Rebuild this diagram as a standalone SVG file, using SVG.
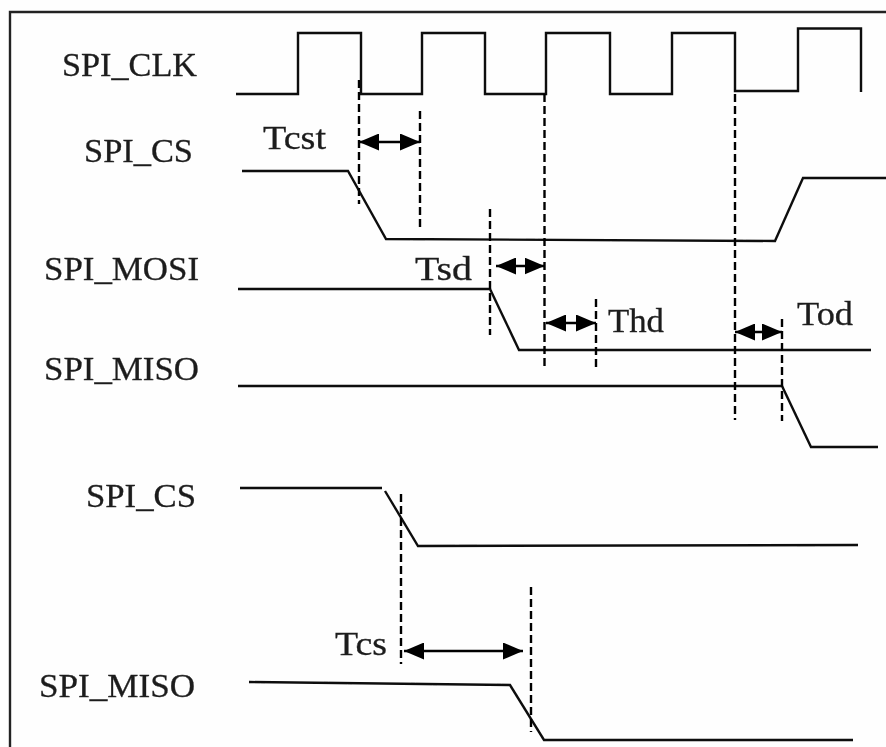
<svg xmlns="http://www.w3.org/2000/svg" width="886" height="747" viewBox="0 0 886 747">
<style>
.sig{fill:none;stroke:#111;stroke-width:2.400}
.dash{fill:none;stroke:#000;stroke-width:2.400;stroke-dasharray:8 4}
.dim{fill:none;stroke:#000;stroke-width:2.400;marker-start:url(#a);marker-end:url(#a)}
text{font-family:"Liberation Serif","Times New Roman",serif;font-size:34px;fill:#1c1c1c;stroke:#1c1c1c;stroke-width:.3}
</style>
<defs>
<marker id="a" viewBox="0 0 20 17" refX="20" refY="8.500" markerUnits="userSpaceOnUse" markerWidth="20" markerHeight="17" orient="auto-start-reverse"><path d="M0 0L20 8.500L0 17Z" fill="#000" stroke="none"/></marker>
<filter id="soft" x="0" y="0" width="100%" height="100%" filterUnits="userSpaceOnUse"><feGaussianBlur stdDeviation="0.450"/></filter>
</defs>
<rect width="886" height="747" fill="#fefefe"/>
<g filter="url(#soft)">
<path id="frame" d="M10 747V12H886" fill="none" stroke="#222" stroke-width="2.400"/>
<g id="spi_clk">
<text x="62" y="76" textLength="135" lengthAdjust="spacingAndGlyphs">SPI_CLK</text>
<path class="sig" d="M236 94H298V33H361V94H422V33H485V94H546V33H610V94H672V33H735V91H798V28.500H861V92"/>
</g>
<g id="spi_cs_1">
<text x="84" y="162" textLength="109" lengthAdjust="spacingAndGlyphs">SPI_CS</text>
<path class="sig" d="M242 171H348L386 239L775 241L803 178H886"/>
</g>
<g id="spi_mosi">
<text x="44" y="280" textLength="155" lengthAdjust="spacingAndGlyphs">SPI_MOSI</text>
<path class="sig" d="M238 289H490L519 350H871"/>
</g>
<g id="spi_miso_1">
<text x="44" y="380" textLength="155" lengthAdjust="spacingAndGlyphs">SPI_MISO</text>
<path class="sig" d="M238 386H782L811 447H878"/>
</g>
<g id="spi_cs_2">
<text x="86" y="507" textLength="110" lengthAdjust="spacingAndGlyphs">SPI_CS</text>
<path class="sig" d="M240 488H382"/>
<path class="sig" d="M385 491L418 546L858 545"/>
</g>
<g id="spi_miso_2">
<text x="39" y="697" textLength="156" lengthAdjust="spacingAndGlyphs">SPI_MISO</text>
<path class="sig" d="M249 682L510 685L544 740H853"/>
</g>
<g id="connectors">
<path class="dash" d="M359 80V204"/>
<path class="dash" d="M420 111V227"/>
<path class="dash" d="M490 209V335"/>
<path class="dash" d="M544.500 94V370"/>
<path class="dash" d="M596 299V370"/>
<path class="dash" d="M735 94V420"/>
<path class="dash" d="M782 319V421"/>
<path class="dash" d="M401 494V664"/>
<path class="dash" d="M531 587V732"/>
<path class="dim" d="M359 142H420"/>
<path class="dim" d="M496 266H544.500"/>
<path class="dim" d="M546 323H596"/>
<path class="dim" d="M735 332H782"/>
<path class="dim" d="M404 651H523"/>
</g>
<g id="timing_labels">
<text x="263" y="149" textLength="63" lengthAdjust="spacingAndGlyphs">Tcst</text>
<text x="415" y="280" textLength="57" lengthAdjust="spacingAndGlyphs">Tsd</text>
<text x="608" y="332" textLength="56" lengthAdjust="spacingAndGlyphs">Thd</text>
<text x="797" y="325" textLength="56" lengthAdjust="spacingAndGlyphs">Tod</text>
<text x="335" y="655" textLength="52" lengthAdjust="spacingAndGlyphs">Tcs</text>
</g>
</g>
</svg>
